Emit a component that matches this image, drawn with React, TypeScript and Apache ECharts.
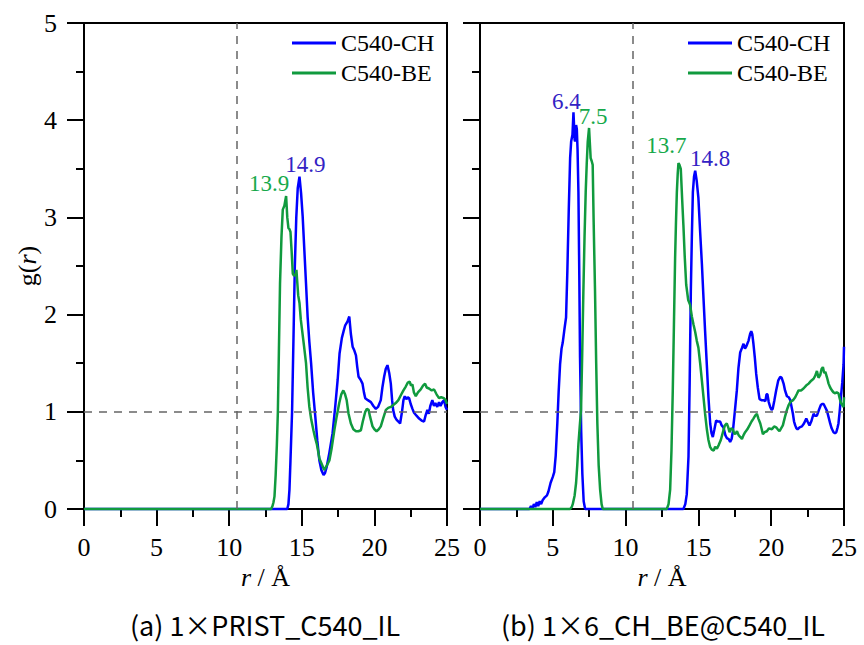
import React, { useEffect, useRef } from "react";
import * as echarts from "echarts";

const seriesNames = ["C540-CH", "C540-BE"];
const panelCaptions = ["(a) 1×PRIST_C540_IL", "(b) 1×6_CH_BE@C540_IL"];
const xTicks = [0, 5, 10, 15, 20, 25];
const yTicks = [0, 1, 2, 3, 4, 5];
const refVertical = 10.5;
const refHorizontal = 1;

const leftCH: number[][] = [[0,0],[14.0,0],[14.08,0.05],[14.15,0.2],[14.22,0.5],[14.33,1.0],[14.42,1.7],[14.52,2.5],[14.62,3.0],[14.72,3.3],[14.84,3.42],[14.95,3.25],[15.06,3.01],[15.18,2.65],[15.29,2.32],[15.4,1.98],[15.52,1.72],[15.64,1.5],[15.78,1.2],[15.93,0.95],[16.07,0.7],[16.21,0.5],[16.35,0.4],[16.5,0.35],[16.6,0.37],[16.71,0.43],[16.9,0.58],[17.12,0.78],[17.3,1.05],[17.47,1.33],[17.6,1.6],[17.76,1.76],[17.88,1.83],[17.99,1.89],[18.15,1.93],[18.27,1.98],[18.38,1.8],[18.5,1.67],[18.62,1.63],[18.73,1.58],[18.82,1.46],[18.91,1.36],[19.05,1.33],[19.18,1.29],[19.28,1.2],[19.37,1.14],[19.55,1.12],[19.76,1.10],[19.93,1.06],[20.1,1.03],[20.25,1.05],[20.44,1.12],[20.55,1.25],[20.67,1.36],[20.78,1.44],[20.9,1.48],[21.02,1.4],[21.13,1.29],[21.22,1.12],[21.29,1.02],[21.4,0.95],[21.52,0.92],[21.65,0.9],[21.77,0.88],[21.9,1.0],[22.0,1.12],[22.09,1.16],[22.2,1.13],[22.3,1.15],[22.39,1.14],[22.5,1.08],[22.62,1.03],[22.73,0.99],[22.9,0.96],[23.08,0.93],[23.25,0.91],[23.42,0.9],[23.52,0.96],[23.65,1.02],[23.75,0.98],[23.85,1.06],[23.99,1.12],[24.1,1.06],[24.2,1.09],[24.33,1.05],[24.45,1.1],[24.55,1.06],[24.68,1.1],[24.8,1.12],[24.9,1.05],[25.0,1.02]];

const leftBE: number[][] = [[0,0],[12.89,0],[12.98,0.03],[13.05,0.07],[13.12,0.13],[13.2,0.35],[13.28,0.65],[13.35,0.99],[13.42,1.6],[13.5,2.32],[13.6,2.8],[13.69,3.08],[13.8,3.12],[13.92,3.22],[14.0,3.0],[14.08,2.89],[14.15,2.88],[14.22,2.85],[14.3,2.65],[14.38,2.42],[14.47,2.4],[14.57,2.41],[14.63,2.46],[14.68,2.35],[14.75,2.2],[14.84,2.12],[14.93,1.95],[15.02,1.84],[15.15,1.68],[15.29,1.5],[15.4,1.25],[15.52,1.05],[15.65,0.92],[15.8,0.81],[15.92,0.73],[16.03,0.67],[16.12,0.6],[16.21,0.52],[16.38,0.46],[16.55,0.40],[16.7,0.44],[16.9,0.5],[17.05,0.62],[17.24,0.81],[17.4,0.95],[17.58,1.09],[17.72,1.18],[17.86,1.22],[17.98,1.18],[18.09,1.12],[18.22,0.98],[18.38,0.88],[18.55,0.82],[18.73,0.80],[18.9,0.8],[19.07,0.81],[19.2,0.9],[19.37,1.0],[19.48,1.03],[19.6,1.02],[19.7,0.95],[19.87,0.85],[20.0,0.82],[20.15,0.8],[20.3,0.82],[20.44,0.85],[20.6,0.93],[20.79,1.02],[20.95,1.04],[21.13,1.05],[21.3,1.07],[21.47,1.09],[21.65,1.12],[21.82,1.17],[22.0,1.22],[22.16,1.26],[22.3,1.3],[22.43,1.31],[22.52,1.27],[22.62,1.28],[22.72,1.2],[22.85,1.16],[23.0,1.2],[23.19,1.23],[23.35,1.27],[23.49,1.29],[23.6,1.25],[23.76,1.24],[23.95,1.22],[24.11,1.23],[24.28,1.18],[24.45,1.14],[24.6,1.15],[24.79,1.14],[24.9,1.12],[25.0,1.08]];

const rightCH: number[][] = [[0,0],[3.4,0],[3.5,0.03],[3.6,0.0],[3.7,0.05],[3.8,0.02],[3.9,0.07],[4.0,0.03],[4.1,0.08],[4.2,0.05],[4.3,0.09],[4.45,0.12],[4.6,0.14],[4.7,0.18],[4.85,0.27],[5.0,0.33],[5.1,0.38],[5.2,0.55],[5.31,0.88],[5.4,1.2],[5.5,1.49],[5.6,1.65],[5.68,1.71],[5.8,1.85],[5.91,1.97],[6.0,2.45],[6.1,3.1],[6.19,3.61],[6.26,3.78],[6.35,3.85],[6.42,4.08],[6.5,3.8],[6.53,3.78],[6.6,3.95],[6.65,3.91],[6.7,3.7],[6.76,3.26],[6.82,2.4],[6.87,1.56],[6.95,0.8],[7.03,0.36],[7.12,0.08],[7.22,0],[13.97,0],[14.1,0.05],[14.2,0.15],[14.32,0.54],[14.4,1.3],[14.48,2.24],[14.55,2.8],[14.62,3.26],[14.7,3.42],[14.78,3.48],[14.88,3.38],[15.0,3.2],[15.12,2.85],[15.24,2.52],[15.35,2.17],[15.46,1.83],[15.58,1.48],[15.69,1.15],[15.81,0.88],[15.9,0.78],[15.99,0.74],[16.1,0.82],[16.22,0.91],[16.35,0.9],[16.49,0.9],[16.6,0.86],[16.72,0.84],[16.85,0.76],[16.95,0.73],[17.08,0.72],[17.18,0.69],[17.28,0.72],[17.37,0.8],[17.5,1.0],[17.64,1.22],[17.75,1.45],[17.87,1.61],[18.0,1.66],[18.1,1.70],[18.2,1.65],[18.28,1.67],[18.36,1.70],[18.44,1.73],[18.55,1.8],[18.63,1.83],[18.7,1.8],[18.78,1.70],[18.88,1.55],[18.97,1.39],[19.08,1.25],[19.2,1.13],[19.33,1.12],[19.47,1.12],[19.6,1.11],[19.68,1.18],[19.74,1.18],[19.83,1.1],[19.93,1.05],[20.03,1.02],[20.1,1.03],[20.22,1.12],[20.34,1.22],[20.48,1.32],[20.62,1.36],[20.72,1.35],[20.85,1.29],[20.95,1.22],[21.08,1.16],[21.2,1.15],[21.31,1.12],[21.4,1.05],[21.49,0.98],[21.57,0.9],[21.65,0.86],[21.73,0.83],[21.81,0.82],[21.95,0.84],[22.11,0.85],[22.25,0.88],[22.41,0.93],[22.5,0.9],[22.63,0.86],[22.75,0.9],[22.91,0.98],[23.0,0.96],[23.14,0.96],[23.28,1.02],[23.41,1.07],[23.5,1.08],[23.6,1.08],[23.7,1.05],[23.83,1.01],[23.95,0.94],[24.05,0.88],[24.15,0.83],[24.28,0.79],[24.38,0.78],[24.47,0.79],[24.56,0.84],[24.62,0.88],[24.7,1.0],[24.79,1.15],[24.88,1.3],[24.97,1.49],[25.0,1.67]];

const rightBE: number[][] = [[0,0],[6.19,0],[6.3,0.02],[6.37,0.05],[6.5,0.14],[6.6,0.27],[6.68,0.45],[6.76,0.67],[6.85,0.85],[6.94,1.02],[7.02,1.6],[7.1,2.24],[7.18,2.8],[7.26,3.26],[7.33,3.55],[7.4,3.78],[7.49,3.92],[7.55,3.75],[7.6,3.61],[7.67,3.58],[7.74,3.54],[7.8,3.0],[7.9,2.24],[7.98,1.5],[8.06,0.88],[8.15,0.45],[8.25,0.2],[8.35,0.05],[8.43,0],[12.83,0],[12.95,0.05],[13.06,0.2],[13.15,0.6],[13.24,1.22],[13.32,1.9],[13.4,2.58],[13.46,2.95],[13.52,3.26],[13.58,3.45],[13.63,3.56],[13.7,3.54],[13.79,3.5],[13.88,3.2],[13.97,2.92],[14.06,2.6],[14.16,2.31],[14.3,2.15],[14.43,2.1],[14.55,1.98],[14.66,1.9],[14.78,1.82],[14.89,1.73],[15.0,1.66],[15.12,1.5],[15.24,1.32],[15.35,1.15],[15.46,0.98],[15.58,0.82],[15.69,0.71],[15.8,0.64],[15.92,0.61],[16.05,0.6],[16.15,0.64],[16.27,0.62],[16.4,0.66],[16.54,0.71],[16.63,0.76],[16.72,0.81],[16.82,0.86],[16.95,0.88],[17.05,0.84],[17.14,0.79],[17.25,0.83],[17.37,0.82],[17.45,0.78],[17.53,0.77],[17.65,0.8],[17.76,0.76],[17.88,0.74],[17.99,0.72],[18.1,0.76],[18.21,0.79],[18.36,0.82],[18.51,0.86],[18.65,0.9],[18.78,0.93],[18.9,0.96],[19.02,0.98],[19.12,0.93],[19.25,0.88],[19.35,0.82],[19.43,0.77],[19.55,0.79],[19.7,0.8],[19.85,0.83],[20.05,0.82],[20.2,0.85],[20.34,0.84],[20.45,0.82],[20.57,0.8],[20.68,0.83],[20.8,0.86],[20.95,0.95],[21.08,1.02],[21.2,1.07],[21.31,1.1],[21.5,1.12],[21.65,1.15],[21.75,1.18],[21.88,1.22],[22.05,1.22],[22.22,1.24],[22.4,1.27],[22.57,1.29],[22.75,1.32],[22.91,1.34],[23.02,1.37],[23.14,1.42],[23.25,1.35],[23.37,1.38],[23.46,1.44],[23.55,1.46],[23.64,1.40],[23.72,1.41],[23.84,1.35],[23.94,1.29],[24.05,1.25],[24.17,1.22],[24.28,1.20],[24.4,1.19],[24.5,1.2],[24.62,1.19],[24.7,1.14],[24.79,1.09],[24.88,1.07],[24.97,1.05],[25.0,1.15]];

// peak annotations: [r, g(r), label]
const leftCHPeaks: [number, number, string][] = [[14.84, 3.42, "14.9"]];
const leftBEPeaks: [number, number, string][] = [[13.92, 3.22, "13.9"]];
const rightCHPeaks: [number, number, string][] = [[6.42, 4.08, "6.4"], [14.78, 3.48, "14.8"]];
const rightBEPeaks: [number, number, string][] = [[7.49, 3.92, "7.5"], [13.63, 3.56, "13.7"]];

const LINE_BLUE = "#0000ff";
const LINE_GREEN = "#109a3e";
const TEXT_BLUE = "#3322c4";
const TEXT_GREEN = "#17a94b";
const SERIF = "'Liberation Serif', 'Times New Roman', serif";
const CAPTION_FONT = "'Noto Sans CJK SC', 'Noto Sans', sans-serif";

const labelOffsets: Record<string, number[]> = {
  "14.9": [6, -12],
  "13.9": [-17, -13],
  "6.4": [-7, -11],
  "7.5": [4, -11],
  "13.7": [-12, -17],
  "14.8": [15, -12],
};

export default function App() {
  const ref = useRef<HTMLDivElement>(null);
  useEffect(() => {
    if (!ref.current) return;
    const chart = echarts.init(ref.current, null, { renderer: "svg" });

    const grids = [
      { left: 84, top: 23, width: 363, height: 486 },
      { left: 480, top: 23, width: 364, height: 486 },
    ];

    const xAxis = [0, 1].map((i) => ({
      type: "value",
      gridIndex: i,
      min: xTicks[0],
      max: xTicks[xTicks.length - 1],
      interval: xTicks[1] - xTicks[0],
      name: "{i|r}{n| / Å}",
      nameLocation: "middle",
      nameGap: 52,
      nameTextStyle: {
        rich: {
          i: { fontFamily: SERIF, fontSize: 26, fontStyle: "italic", color: "#000" },
          n: { fontFamily: SERIF, fontSize: 26, color: "#000" },
        },
      },
      axisLine: { show: true, onZero: false, lineStyle: { color: "#000", width: 2 } },
      axisTick: { show: true, inside: false, length: 17, lineStyle: { color: "#000", width: 2 } },
      minorTick: { show: true, splitNumber: 2, length: 8, lineStyle: { color: "#000", width: 2 } },
      axisLabel: {
        show: true,
        margin: 25,
        fontFamily: SERIF,
        fontSize: 26,
        color: "#000",
        showMinLabel: true,
        showMaxLabel: true,
      },
      splitLine: { show: false },
    }));

    const yAxis = [0, 1].map((i) => ({
      type: "value",
      gridIndex: i,
      min: yTicks[0],
      max: yTicks[yTicks.length - 1],
      interval: yTicks[1] - yTicks[0],
      name: i === 0 ? "{n|g(}{i|r}{n|)}" : "",
      nameLocation: "middle",
      nameGap: 44,
      nameRotate: 90,
      nameTextStyle: {
        rich: {
          i: { fontFamily: SERIF, fontSize: 26, fontStyle: "italic", color: "#000" },
          n: { fontFamily: SERIF, fontSize: 26, color: "#000" },
        },
      },
      axisLine: { show: true, onZero: false, lineStyle: { color: "#000", width: 2 } },
      axisTick: { show: true, inside: false, length: 17, lineStyle: { color: "#000", width: 2 } },
      minorTick: { show: true, splitNumber: 2, length: 8, lineStyle: { color: "#000", width: 2 } },
      axisLabel: {
        show: i === 0,
        margin: 27,
        fontFamily: SERIF,
        fontSize: 26,
        color: "#000",
        showMinLabel: true,
        showMaxLabel: true,
      },
      splitLine: { show: false },
    }));

    const peakMarks = (peaks: [number, number, string][], color: string) => ({
      symbol: "circle",
      symbolSize: 0,
      silent: true,
      label: {
        show: true,
        position: "inside",
        fontFamily: SERIF,
        fontSize: 23,
        color,
        formatter: (p: any) => p.name,
      },
      data: peaks.map(([r, g, t]) => ({
        name: t,
        coord: [r, g],
        label: { offset: labelOffsets[t] || [0, -14] },
      })),
    });

    const refLines = {
      silent: true,
      symbol: ["none", "none"],
      label: { show: false },
      lineStyle: { color: "#666", type: [8, 7], width: 1.5 },
      data: [{ xAxis: refVertical }, { yAxis: refHorizontal }],
    };

    const mkSeries = (
      name: string,
      data: number[][],
      gi: number,
      color: string,
      peaks: [number, number, string][],
      textColor: string,
      withRef: boolean
    ) => ({
      type: "line",
      name,
      xAxisIndex: gi,
      yAxisIndex: gi,
      data,
      showSymbol: false,
      symbol: "none",
      clip: false,
      lineStyle: { color, width: 2.5 },
      itemStyle: { color },
      markPoint: peakMarks(peaks, textColor),
      ...(withRef ? { markLine: refLines } : {}),
    });

    const legends = [287, 683].map((left) => ({
      show: true,
      orient: "vertical",
      left,
      top: 26,
      itemWidth: 44,
      itemHeight: 3,
      itemGap: 6,
      icon: "rect",
      data: seriesNames,
      textStyle: { fontFamily: SERIF, fontSize: 24, color: "#000" },
    }));

    const captionStyle = {
      fontFamily: CAPTION_FONT,
      fontSize: 27,
      lineHeight: 30,
      fill: "#000",
      textAlign: "center",
      textVerticalAlign: "middle",
    };

    chart.setOption({
      animation: false,
      backgroundColor: "#fff",
      grid: grids.map((g) => ({ ...g, show: true, borderColor: "#000", borderWidth: 2, backgroundColor: "transparent" })),
      xAxis,
      yAxis,
      legend: legends,
      series: [
        mkSeries(seriesNames[0], leftCH, 0, LINE_BLUE, leftCHPeaks, TEXT_BLUE, true),
        mkSeries(seriesNames[1], leftBE, 0, LINE_GREEN, leftBEPeaks, TEXT_GREEN, false),
        mkSeries(seriesNames[0], rightCH, 1, LINE_BLUE, rightCHPeaks, TEXT_BLUE, true),
        mkSeries(seriesNames[1], rightBE, 1, LINE_GREEN, rightBEPeaks, TEXT_GREEN, false),
      ],
      graphic: [
        { type: "text", x: 265, y: 624, style: { ...captionStyle, text: panelCaptions[0] } },
        { type: "text", x: 663, y: 624, style: { ...captionStyle, text: panelCaptions[1] } },
      ],
    });
    return () => chart.dispose();
  }, []);
  return (
    <div
      ref={ref}
      style={{ position: "fixed", left: 0, top: 0, width: 864, height: 645, background: "#fff" }}
    />
  );
}
